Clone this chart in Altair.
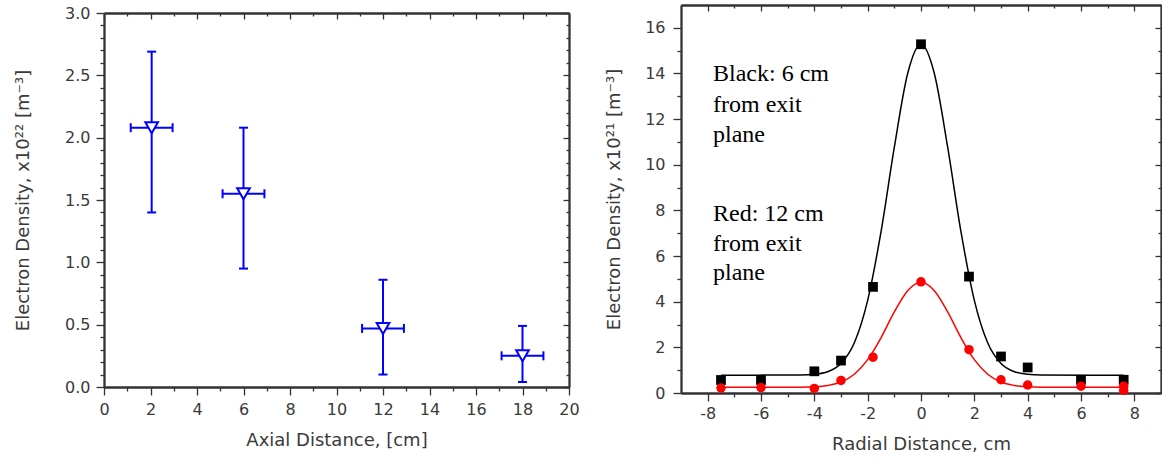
import altair as alt
import pandas as pd

# ---------------- Left panel: axial profile ----------------
axial_x = [2.05, 6.0, 12.0, 18.0]
axial_y = [2.08, 1.55, 0.47, 0.25]
axial_ylo = [1.40, 0.95, 0.10, 0.04]
axial_yhi = [2.69, 2.08, 0.86, 0.49]
axial_xlo = [1.15, 5.1, 11.1, 17.1]
axial_xhi = [2.95, 6.9, 12.9, 18.9]

left_x_major = [0, 2, 4, 6, 8, 10, 12, 14, 16, 18, 20]
left_x_minor = [1, 3, 5, 7, 9, 11, 13, 15, 17, 19]
left_y_major = [0.0, 0.5, 1.0, 1.5, 2.0, 2.5, 3.0]
left_y_minor = [0.1, 0.2, 0.3, 0.4, 0.6, 0.7, 0.8, 0.9, 1.1, 1.2, 1.3, 1.4,
                1.6, 1.7, 1.8, 1.9, 2.1, 2.2, 2.3, 2.4, 2.6, 2.7, 2.8, 2.9]

# ---------------- Right panel: radial profiles ----------------
black_x = [-7.5, -6, -4, -3, -1.8, 0, 1.8, 3, 4, 6, 7.6]
black_y = [0.57, 0.57, 0.95, 1.42, 4.65, 15.28, 5.1, 1.6, 1.12, 0.58, 0.58]
red_x = [-7.5, -6, -4, -3, -1.8, 0, 1.8, 3, 4, 6, 7.6, 7.6]
red_y = [0.22, 0.24, 0.2, 0.55, 1.57, 4.87, 1.9, 0.58, 0.35, 0.3, 0.3, 0.12]

fit_x = [-7.5, -4.5, -4, -3.5, -3, -2.5, -2, -1.5, -1, -0.5, 0,
         0.5, 1, 1.5, 2, 2.5, 3, 3.5, 4, 4.5, 7.6]
black_fit = [0.78, 0.79, 0.82, 0.93, 1.29, 2.2, 4.06, 7.06, 10.77, 14.0, 15.28,
             14.0, 10.77, 7.06, 4.06, 2.2, 1.29, 0.93, 0.82, 0.79, 0.78]
red_fit = [0.25, 0.25, 0.27, 0.33, 0.48, 0.82, 1.46, 2.42, 3.55, 4.48, 4.85,
           4.48, 3.55, 2.42, 1.46, 0.82, 0.48, 0.33, 0.27, 0.25, 0.25]

right_x_major = [-8, -6, -4, -2, 0, 2, 4, 6, 8]
right_x_minor = [-7, -5, -3, -1, 1, 3, 5, 7]
right_y_major = [0, 2, 4, 6, 8, 10, 12, 14, 16]
right_y_minor = [1, 3, 5, 7, 9, 11, 13, 15]

ann_text = ["Black: 6 cm", "from exit", "plane", "Red: 12 cm", "from exit", "plane"]
ann_x = [-7.8, -7.8, -7.8, -7.8, -7.8, -7.8]
ann_y = [13.97, 12.62, 11.31, 7.86, 6.55, 5.24]

SANS = "DejaVu Sans"
AXC = "#333333"
TXC = "#3a3a3a"
BLUE = "#0000ff"
RED = "#ff0000"

WL, HL = 465, 382      # left plot: frame top sits 8 px below the group top
LTOP = 8
WR, HR = 480, 388


def mkaxis(values, orient, size, labels=False, offset=0, fmt=None, title=None,
           pad=None, tpad=None):
    kw = dict(values=values, orient=orient, tickSize=size, labels=labels, grid=False,
              domainColor=AXC, domainWidth=1.8, tickColor=AXC, tickWidth=1.3,
              labelFont=SANS, labelFontSize=16, labelColor=TXC, labelFlush=False,
              labelOverlap=False, titleFont=SANS, titleFontSize=18,
              titleFontWeight="normal", titleColor=TXC, offset=offset)
    if labels:
        kw["labelExpr"] = "replace(datum.label, '\u2212', '-')"
    if fmt:
        kw["format"] = fmt
    if pad is not None:
        kw["labelPadding"] = pad
    if tpad is not None:
        kw["titlePadding"] = tpad
    kw["title"] = title
    return alt.Axis(**kw)


dummy = pd.DataFrame({"x": [0.0], "y": [0.0]})


def axis_layer(xs, ys, xaxis, yaxis):
    return alt.Chart(dummy).mark_point(opacity=0).encode(
        x=alt.X("x:Q", scale=xs, axis=xaxis),
        y=alt.Y("y:Q", scale=ys, axis=yaxis),
    )


# ---------------- Left chart ----------------
xsL = alt.Scale(domain=[0, 20], nice=False, zero=False)
ysL = alt.Scale(domain=[0, 3], range=[HL, LTOP], nice=False, zero=False)
dfL = pd.DataFrame(dict(x=axial_x, y=axial_y, ylo=axial_ylo, yhi=axial_yhi,
                        xlo=axial_xlo, xhi=axial_xhi))
baseL = alt.Chart(dfL)

vrule = baseL.mark_rule(color=BLUE, strokeWidth=2).encode(
    x=alt.X("x:Q", scale=xsL,
            axis=mkaxis(left_x_major, "bottom", 8, labels=True,
                        title="Axial Distance, [cm]", pad=6, tpad=14)),
    y=alt.Y("ylo:Q", scale=ysL,
            axis=mkaxis(left_y_major, "left", 8, labels=True, fmt=".1f",
                        title="Electron Density, x10²² [m⁻³]", pad=6, tpad=32)),
    y2="yhi:Q",
)
hrule = baseL.mark_rule(color=BLUE, strokeWidth=2).encode(
    x=alt.X("xlo:Q", scale=xsL, axis=None), x2="xhi:Q",
    y=alt.Y("y:Q", scale=ysL, axis=None),
)


def cap(xf, yf, orient):
    return baseL.mark_tick(orient=orient, size=9, thickness=2, color=BLUE, opacity=1).encode(
        x=alt.X(xf, scale=xsL, axis=None), y=alt.Y(yf, scale=ysL, axis=None))


tri = baseL.mark_point(shape="triangle-down", size=160, filled=True, fill="white",
                       stroke=BLUE, strokeWidth=2, opacity=1).encode(
    x=alt.X("x:Q", scale=xsL, axis=None), y=alt.Y("y:Q", scale=ysL, axis=None))

minorL = axis_layer(xsL, ysL, mkaxis(left_x_minor, "bottom", 4), mkaxis(left_y_minor, "left", 4))
mirrorL = axis_layer(xsL, ysL, mkaxis(left_x_major, "bottom", 6, offset=-(HL - LTOP)),
                     mkaxis(left_y_major, "left", 6, offset=-WL))
mirrorMinL = axis_layer(xsL, ysL, mkaxis(left_x_minor, "bottom", 3, offset=-(HL - LTOP)),
                        mkaxis(left_y_minor, "left", 3, offset=-WL))

left = alt.layer(
    vrule, hrule,
    cap("x:Q", "ylo:Q", "horizontal"), cap("x:Q", "yhi:Q", "horizontal"),
    cap("xlo:Q", "y:Q", "vertical"), cap("xhi:Q", "y:Q", "vertical"),
    tri, minorL, mirrorL, mirrorMinL,
).resolve_axis(x="independent", y="independent").properties(width=WL, height=HL)

# ---------------- Right chart ----------------
xsR = alt.Scale(domain=[-9, 9], nice=False, zero=False)
ysR = alt.Scale(domain=[0, 17], nice=False, zero=False)

dfBfit = pd.DataFrame({"x": fit_x, "y": black_fit})
dfRfit = pd.DataFrame({"x": fit_x, "y": red_fit})
dfB = pd.DataFrame({"x": black_x, "y": black_y})
dfR = pd.DataFrame({"x": red_x, "y": red_y})
dfA = pd.DataFrame({"x": ann_x, "y": ann_y, "t": ann_text})

bline = alt.Chart(dfBfit).mark_line(color="black", strokeWidth=1.5, interpolate="monotone").encode(
    x=alt.X("x:Q", scale=xsR,
            axis=mkaxis(right_x_major, "bottom", 8, labels=True,
                        title="Radial Distance, cm", pad=4, tpad=14)),
    y=alt.Y("y:Q", scale=ysR,
            axis=mkaxis(right_y_major, "left", 8, labels=True,
                        title="Electron Density, x10²¹ [m⁻³]", pad=8, tpad=21)),
)
rline = alt.Chart(dfRfit).mark_line(color=RED, strokeWidth=1.5, interpolate="monotone").encode(
    x=alt.X("x:Q", scale=xsR, axis=None), y=alt.Y("y:Q", scale=ysR, axis=None))
bsq = alt.Chart(dfB).mark_square(size=95, color="black", opacity=1).encode(
    x=alt.X("x:Q", scale=xsR, axis=None), y=alt.Y("y:Q", scale=ysR, axis=None))
rcir = alt.Chart(dfR).mark_circle(size=90, color=RED, opacity=1).encode(
    x=alt.X("x:Q", scale=xsR, axis=None), y=alt.Y("y:Q", scale=ysR, axis=None))
ann = alt.Chart(dfA).mark_text(align="left", baseline="middle", font="Liberation Serif",
                               fontSize=24, color="black").encode(
    x=alt.X("x:Q", scale=xsR, axis=None), y=alt.Y("y:Q", scale=ysR, axis=None), text="t:N")

minorR = axis_layer(xsR, ysR, mkaxis(right_x_minor, "bottom", 4), mkaxis(right_y_minor, "left", 4))
mirrorR = axis_layer(xsR, ysR, mkaxis(right_x_major, "bottom", 6, offset=-HR),
                     mkaxis(right_y_major, "left", 6, offset=-WR))
mirrorMinR = axis_layer(xsR, ysR, mkaxis(right_x_minor, "bottom", 3, offset=-HR),
                        mkaxis(right_y_minor, "left", 3, offset=-WR))

right = alt.layer(
    bline, rline, bsq, rcir, ann, minorR, mirrorR, mirrorMinR,
).resolve_axis(x="independent", y="independent").properties(width=WR, height=HR)

chart = alt.hconcat(left, right, spacing=25).properties(
    padding={"left": 14, "top": 4, "right": 0, "bottom": 0}
).configure_view(strokeWidth=0)

chart.save("out.html", embed_options={"renderer": "svg", "actions": False})
